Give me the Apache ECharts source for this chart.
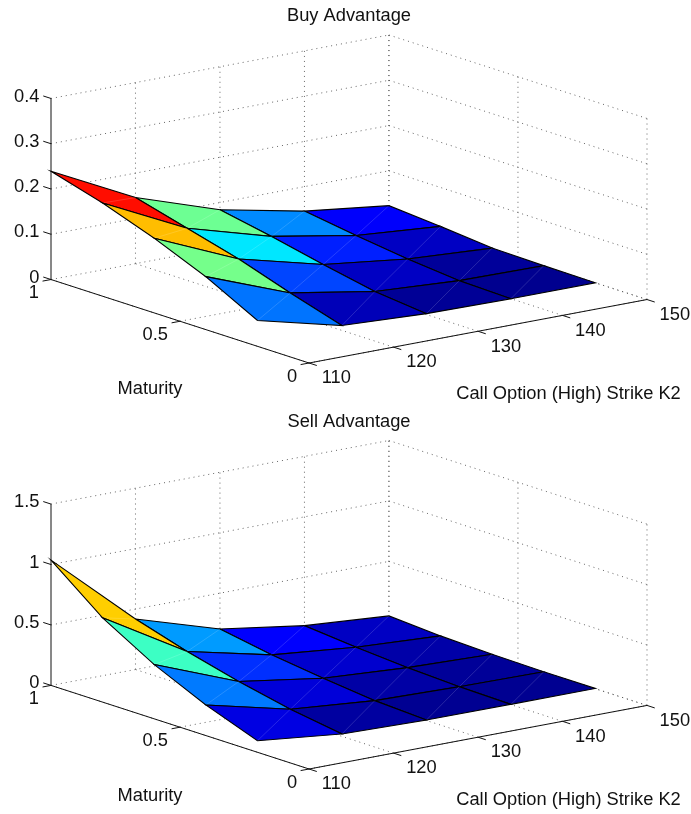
<!DOCTYPE html>
<html>
<head>
<meta charset="utf-8">
<title>Buy and Sell Advantage</title>
<script src="https://cdn.jsdelivr.net/npm/echarts@6/dist/echarts.min.js"></script>
<style>
html, body { margin: 0; padding: 0; background: #fff; }
#chart { width: 691px; height: 814px; }
</style>
</head>
<body>
<div id="chart"></div>
<script>
// data
const strikes = [110, 120, 130, 140, 150];
const maturities = [1, 0.8, 0.6, 0.4, 0.2];
const maturityTicks = [1, 0.5, 0];
const buyTicks = [0, 0.1, 0.2, 0.3, 0.4];
const sellTicks = [0, 0.5, 1, 1.5];
// one row per maturity, one value per strike
const buyAdvantage = [
    [0.239, 0.146, 0.084, 0.046, 0.023],
    [0.206, 0.115, 0.062, 0.029, 0.014],
    [0.165, 0.084, 0.037, 0.014, 0.003],
    [0.117, 0.046, 0.014, 0.003, 0.001],
    [0.057, 0.011, 0.002, 0.000, 0.000]
];
const sellAdvantage = [
    [1.036, 0.418, 0.203, 0.100, 0.049],
    [0.697, 0.287, 0.128, 0.060, 0.022],
    [0.449, 0.177, 0.073, 0.029, 0.008],
    [0.253, 0.086, 0.026, 0.010, 0.002],
    [0.096, 0.020, 0.004, 0.002, 0.002]
];

const jet = ['#00008f', '#0000ff', '#0080ff', '#00ffff', '#80ff80', '#ffff00', '#ff8000', '#ff0000', '#800000'];
const fontText = '18.3px "Liberation Sans", Arial, sans-serif';
const textColor = '#111';

// fixed 3d view: share of the plot box taken by each data axis
const kMin = 110, kSpan = 40;
const view = { kx: 0.567, mx: 0.433, ky: 0.1935, my: 0.2545, zy: 0.552 };

function project(api, k, m, z, zMax) {
    const t = (k - kMin) / kSpan;
    return api.coord([
        t * view.kx + (1 - m) * view.mx,
        t * view.ky + m * view.my + (z / zMax) * view.zy
    ]);
}

function lineItem(p, q, style) {
    return { type: 'line', shape: { x1: p[0], y1: p[1], x2: q[0], y2: q[1] }, style: style };
}

// dotted walls and floor
function wallSegments(zTicks) {
    const zTop = zTicks[zTicks.length - 1];
    const segs = [];
    zTicks.forEach(z => {
        segs.push([kMin, 1, z, 150, 1, z]);
        segs.push([150, 1, z, 150, 0, z]);
    });
    strikes.forEach(k => {
        if (k !== kMin) segs.push([k, 1, 0, k, 1, zTop]);
        segs.push([k, 0, 0, k, 1, 0]);
    });
    maturityTicks.forEach(m => {
        segs.push([150, m, 0, 150, m, zTop]);
        if (m !== 1) segs.push([kMin, m, 0, 150, m, 0]);
    });
    return segs;
}

// solid axis lines with their tick marks
function axisSegments(zTicks) {
    const zTop = zTicks[zTicks.length - 1];
    const segs = [
        [kMin, 1, 0, kMin, 1, zTop],
        [kMin, 1, 0, kMin, 0, 0],
        [kMin, 0, 0, 150, 0, 0]
    ];
    zTicks.forEach(z => segs.push([kMin, 1, z, kMin, 1.03, z]));
    strikes.forEach(k => segs.push([k, 0, 0, k, -0.03, 0]));
    maturityTicks.forEach(m => segs.push([kMin, m, 0, kMin - 1, m, 0]));
    return segs;
}

// faces are ordered back to front, coloured from their low maturity, low strike corner
function surfaceFaces(rows) {
    const faces = [];
    for (let r = 0; r < maturities.length - 1; r++) {
        for (let c = strikes.length - 2; c >= 0; c--) {
            faces.push([
                strikes[c], strikes[c + 1], maturities[r], maturities[r + 1],
                rows[r][c], rows[r][c + 1], rows[r + 1][c], rows[r + 1][c + 1],
                rows[r + 1][c]
            ]);
        }
    }
    return faces;
}

function tickLabels(zTicks) {
    const labels = [];
    zTicks.forEach(z => labels.push([kMin, 1, z, String(z), 'right', -11.5, -2]));
    maturityTicks.forEach(m => labels.push([kMin, m, 0, String(m), 'right', -12, 13.5]));
    strikes.forEach(k => labels.push([k, 0, 0, String(k), 'left', 12.6, 15.2]));
    return labels;
}

function segmentSeries(gridIndex, segs, zMax, style) {
    return {
        type: 'custom',
        xAxisIndex: gridIndex,
        yAxisIndex: gridIndex,
        silent: true,
        data: segs,
        renderItem(params, api) {
            return lineItem(
                project(api, api.value(0), api.value(1), api.value(2), zMax),
                project(api, api.value(3), api.value(4), api.value(5), zMax),
                style
            );
        }
    };
}

function surfaceSeries(gridIndex, rows, zMax) {
    return {
        type: 'custom',
        xAxisIndex: gridIndex,
        yAxisIndex: gridIndex,
        silent: true,
        data: surfaceFaces(rows),
        renderItem(params, api) {
            const k0 = api.value(0), k1 = api.value(1), m0 = api.value(2), m1 = api.value(3);
            const a = project(api, k0, m0, api.value(4), zMax);
            const b = project(api, k1, m0, api.value(5), zMax);
            const c = project(api, k0, m1, api.value(6), zMax);
            const d = project(api, k1, m1, api.value(7), zMax);
            return {
                type: 'group',
                children: [
                    {
                        type: 'polygon',
                        shape: { points: [a, b, d, c] },
                        style: { fill: api.visual('color'), stroke: '#000', lineWidth: 1.1 }
                    },
                    // faint seam along the diagonal of each quad
                    lineItem(c, b, { stroke: 'rgba(255,255,255,0.25)', lineWidth: 0.6 })
                ]
            };
        }
    };
}

function labelSeries(gridIndex, labels, zMax) {
    return {
        type: 'custom',
        xAxisIndex: gridIndex,
        yAxisIndex: gridIndex,
        silent: true,
        data: labels,
        renderItem(params, api) {
            const item = labels[params.dataIndex];
            const p = project(api, item[0], item[1], item[2], zMax);
            return {
                type: 'text',
                style: {
                    x: p[0] + item[5],
                    y: p[1] + item[6],
                    text: item[3],
                    textAlign: item[4],
                    textVerticalAlign: 'middle',
                    font: fontText,
                    fill: textColor
                }
            };
        }
    };
}

function panelSeries(gridIndex, rows, zTicks) {
    const zMax = zTicks[zTicks.length - 1];
    return [
        segmentSeries(gridIndex, wallSegments(zTicks), zMax, { stroke: '#555', lineWidth: 0.9, lineDash: [1, 4] }),
        segmentSeries(gridIndex, axisSegments(zTicks), zMax, { stroke: '#111', lineWidth: 1 }),
        surfaceSeries(gridIndex, rows, zMax),
        labelSeries(gridIndex, tickLabels(zTicks), zMax)
    ];
}

function panelTitle(text, x, y) {
    return {
        text: text,
        left: x,
        top: y,
        textAlign: 'center',
        padding: 0,
        textStyle: { fontFamily: '"Liberation Sans", Arial, sans-serif', fontSize: 18.3, fontWeight: 'normal', color: textColor }
    };
}

const plain = { show: false, type: 'value', min: 0, max: 1 };
const series = panelSeries(0, buyAdvantage, buyTicks).concat(panelSeries(1, sellAdvantage, sellTicks));

const chart = echarts.init(document.getElementById('chart'), null, { renderer: 'canvas' });
chart.setOption({
    animation: false,
    backgroundColor: '#fff',
    title: [
        panelTitle('Buy Advantage', 349, 7),
        panelTitle('Maturity', 150, 380),
        panelTitle('Call Option (High) Strike K2', 568.5, 385),
        panelTitle('Sell Advantage', 349, 413),
        panelTitle('Maturity', 150, 787),
        panelTitle('Call Option (High) Strike K2', 568.5, 791)
    ],
    grid: [
        { left: 51, width: 596, top: 35, height: 328 },
        { left: 51, width: 596, top: 440.5, height: 328.5 }
    ],
    xAxis: [Object.assign({ gridIndex: 0 }, plain), Object.assign({ gridIndex: 1 }, plain)],
    yAxis: [Object.assign({ gridIndex: 0 }, plain), Object.assign({ gridIndex: 1 }, plain)],
    visualMap: [
        { show: false, type: 'continuous', seriesIndex: 2, dimension: 8, min: 0, max: 0.239, inRange: { color: jet } },
        { show: false, type: 'continuous', seriesIndex: 6, dimension: 8, min: 0, max: 1.036, inRange: { color: jet } }
    ],
    series: series
});
</script>
</body>
</html>
